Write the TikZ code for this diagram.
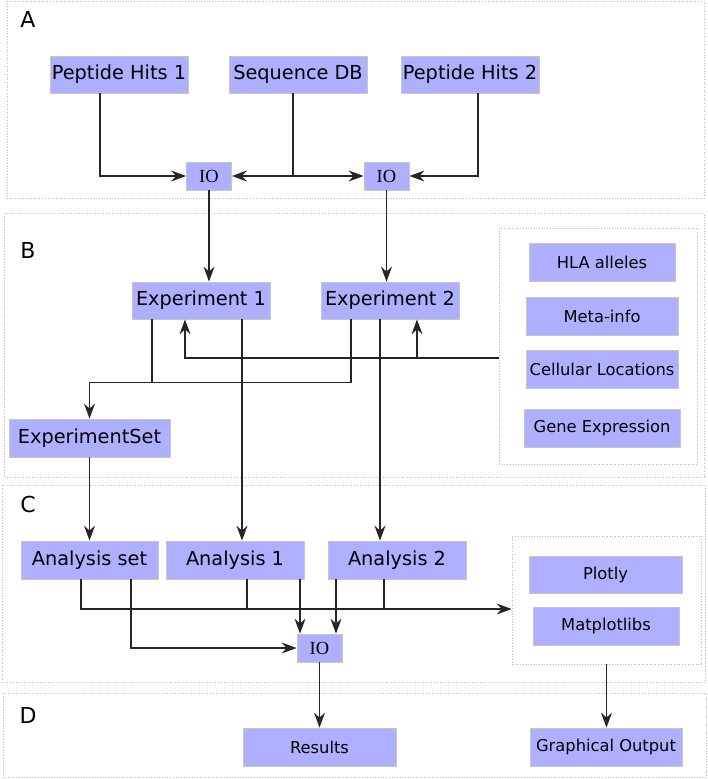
\documentclass[tikz,border=0pt]{standalone}
\usepackage{fontspec}
\setmainfont{DejaVu Sans}
\newfontfamily\iofont{Liberation Serif}
\usepackage{tikz}
\usetikzlibrary{arrows.meta}
\definecolor{boxblue}{RGB}{175,175,255}
\tikzset{
	box/.style={draw=gray!45, fill=boxblue, line width=0.8pt, inner sep=0pt, minimum width=138pt, minimum height=37pt, font=\fontsize{19.3pt}{23pt}\selectfont},
	smallbox/.style={box, minimum width=152pt, minimum height=38pt, font=\fontsize{16.3pt}{20pt}\selectfont},
	iobox/.style={box, minimum width=45pt, minimum height=28pt, font=\iofont\fontsize{18.5pt}{21pt}\selectfont},
	frame/.style={draw=gray!55, dotted, line width=0.7pt},
	seclabel/.style={font=\fontsize{22pt}{26pt}\selectfont, inner sep=0pt},
	arr/.style={-{Stealth[length=15pt,width=11pt,inset=5pt]}, line width=1.3pt, draw=black!85},
	link/.style={line width=1.3pt, draw=black!85}
}

\begin{document}
\begin{tikzpicture}[x=1pt,y=-1pt]
	\useasboundingbox (0,0) rectangle (708,779);

	%section frames
	\draw[frame] (7,1) rectangle (704,198);		%A
	\draw[frame] (4,213) rectangle (704,477);	%B
	\draw[frame] (2,485) rectangle (705,682);	%C
	\draw[frame] (3,693) rectangle (706,777);	%D
	\node[seclabel] (labA) at (28,19)    {A};
	\node[seclabel] (labB) at (28,250.5) {B};
	\node[seclabel] (labC) at (28,504.5) {C};
	\node[seclabel] (labD) at (28,715.5) {D};

	%A - inputs
	\node[box] (ph1)   at (119,74.5) {Peptide Hits 1};
	\node[box] (seqdb) at (298,74.5) {Sequence DB};
	\node[box] (ph2)   at (470,74.5) {Peptide Hits 2};
	\node[iobox] (io1) at (209,176) {IO};
	\node[iobox] (io2) at (386.5,176) {IO};

	%B - experiments
	\node[box] (exp1) at (201,300.5) {Experiment 1};
	\node[box] (exp2) at (390,300.5) {Experiment 2};
	\node[box, minimum width=161pt, minimum height=38pt] (expset) at (89.5,438) {ExperimentSet};
	\node[frame, inner sep=0pt, minimum width=198pt, minimum height=236pt] (meta) at (598,346) {};
	\node[smallbox, minimum width=146pt] (hla)  at (602,262)   {HLA alleles};
	\node[smallbox] (metainfo) at (602,316.5) {Meta-info};
	\node[smallbox] (cellloc)  at (602,369)   {Cellular Locations};
	\node[smallbox, minimum width=156pt] (geneexp) at (602,428) {Gene Expression};

	%C - analysis
	\node[box, minimum width=137pt, minimum height=38pt] (anset) at (89.5,560) {Analysis set};
	\node[box, minimum height=38pt] (an1) at (235,560) {Analysis 1};
	\node[box, minimum height=38pt] (an2) at (397,560) {Analysis 2};
	\node[iobox] (io3) at (319.5,648) {IO};
	\node[frame, inner sep=0pt, minimum width=189pt, minimum height=128pt] (plots) at (606.5,600) {};
	\node[smallbox, minimum width=153pt, minimum height=37pt] (plotly) at (605.5,574.5) {Plotly};
	\node[smallbox, minimum width=146pt] (mpl) at (606,626) {Matplotlibs};

	%D - output
	\node[smallbox, minimum width=153pt] (results) at (319.5,747) {Results};
	\node[smallbox] (graph) at (606,747) {Graphical Output};

	%lines A
	\draw[arr] ([xshift=-19pt]ph1.south) |- (io1.west);
	\draw[arr] ([xshift=-5pt]seqdb.south) |- (io1.east);
	\draw[arr] ([xshift=-5pt]seqdb.south) |- (io2.west);
	\draw[arr] ([xshift=8pt]ph2.south) |- (io2.east);
	\draw[arr] (io1.south) -- (io1.south |- exp1.north);
	\draw[arr] (io2.south) -- (io2.south |- exp2.north);

	%lines B
	\draw[link] ([xshift=-49pt]exp1.south) -- ++(0,63);
	\draw[arr] ([xshift=-39pt]exp2.south) -- ++(0,63) -| (expset.north);
	\draw[arr] ([yshift=-12pt]meta.west) -| ([xshift=-16pt]exp1.south);
	\draw[arr] ([yshift=-12pt]meta.west) -| ([xshift=27pt]exp2.south);
	\draw[arr] ([xshift=41pt]exp1.south) -- ([xshift=41pt]exp1.south |- an1.north);
	\draw[arr] ([xshift=-10pt]exp2.south) -- ([xshift=-10pt]exp2.south |- an2.north);
	\draw[arr] (expset.south) -- (expset.south |- anset.north);

	%lines C
	\draw[arr] ([xshift=-8.5pt]anset.south) |- ([yshift=-9pt]plots.west);
	\draw[link] ([xshift=12pt]an1.south) -- ++(0,30);
	\draw[link] ([xshift=-13pt]an2.south) -- ++(0,30);
	\draw[arr] ([xshift=41.5pt]anset.south) |- (io3.west);
	\draw[arr] ([xshift=65pt]an1.south) -- ([xshift=65pt]an1.south |- io3.north);
	\draw[arr] ([xshift=-61pt]an2.south) -- ([xshift=-61pt]an2.south |- io3.north);

	%lines D
	\draw[arr] (io3.south) -- (io3.south |- results.north);
	\draw[arr] (plots.south) -- (plots.south |- graph.north);
\end{tikzpicture}
\end{document}
